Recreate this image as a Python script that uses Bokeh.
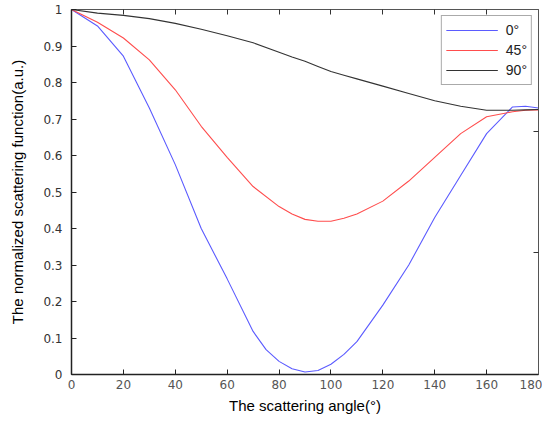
from bokeh.plotting import figure
from bokeh.models import LinearAxis, FixedTicker, Range1d, Legend, LegendItem, CustomJSTickFormatter
from bokeh.embed import file_html
from bokeh.resources import INLINE

angles0 = [0, 10, 20, 30, 40, 50, 60, 70, 75, 80, 85, 90, 95, 100, 105, 110, 120, 130, 140, 150, 160, 170, 175, 180]
s0 = [1.0, 0.955, 0.872, 0.73, 0.575, 0.40, 0.262, 0.118, 0.068, 0.036, 0.016, 0.007, 0.011, 0.028, 0.055, 0.09, 0.19, 0.30, 0.43, 0.545, 0.66, 0.733, 0.735, 0.73]
angles = [0, 10, 20, 30, 40, 50, 60, 70, 80, 85, 90, 95, 100, 105, 110, 120, 130, 140, 150, 160, 170, 175, 180]
s45 = [1.0, 0.965, 0.922, 0.862, 0.78, 0.68, 0.595, 0.515, 0.46, 0.44, 0.425, 0.42, 0.42, 0.428, 0.44, 0.475, 0.53, 0.595, 0.66, 0.706, 0.72, 0.724, 0.725]
s90 = [1.0, 0.99, 0.984, 0.975, 0.962, 0.946, 0.928, 0.909, 0.883, 0.87, 0.858, 0.844, 0.83, 0.82, 0.81, 0.79, 0.77, 0.75, 0.735, 0.724, 0.724, 0.725, 0.726]
labels = ["0°", "45°", "90°"]
colors = ["#5b5bff", "#ff4d4d", "#333333"]
x_ticks = [0, 20, 40, 60, 80, 100, 120, 140, 160, 180]
y_ticks = [0, 0.1, 0.2, 0.3, 0.4, 0.5, 0.6, 0.7, 0.8, 0.9, 1]
right_ticks = [1 / 3, 2 / 3]

p = figure(width=542, height=416, output_backend="svg", toolbar_location=None,
           x_range=Range1d(0, 180), y_range=Range1d(0, 1),
           x_axis_location=None, y_axis_location=None,
           min_border_left=71, min_border_right=4, min_border_top=9, min_border_bottom=38)
p.grid.visible = False
p.outline_line_color = "#555555"
p.outline_line_width = 1
p.background_fill_color = "white"
p.border_fill_color = "white"

renderers = []
for xs, ys, c in zip([angles0, angles, angles], [s0, s45, s90], colors):
    r = p.line(xs, ys, line_color=c, line_width=1.1)
    renderers.append(r)

xb = LinearAxis(ticker=FixedTicker(ticks=x_ticks))
xb.axis_label = "The scattering angle(°)"
xb.axis_label_text_font = "Liberation Sans"
xb.axis_label_text_font_size = "15px"
xb.axis_label_text_font_style = "normal"
xb.axis_label_text_color = "black"
xb.axis_label_standoff = 5
xb.major_label_text_font = "DejaVu Sans"
xb.major_label_text_font_size = "12px"
xb.major_label_text_color = "#555555"
xb.major_label_standoff = 5
xb.major_tick_in = 5
xb.major_tick_out = 0
xb.minor_tick_line_color = None
xb.axis_line_color = "#222222"
xb.axis_line_width = 1.5
xb.major_tick_line_color = "#222222"
p.add_layout(xb, "below")

yl = LinearAxis(ticker=FixedTicker(ticks=y_ticks))
yl.major_label_overrides = {0: "0", 1: "1"}
yl.axis_label = "The normalized scattering function(a.u.)"
yl.axis_label_text_font = "Liberation Sans"
yl.axis_label_text_font_size = "15px"
yl.axis_label_text_font_style = "normal"
yl.axis_label_text_color = "black"
yl.axis_label_standoff = 14
yl.major_label_text_font = "DejaVu Sans"
yl.major_label_text_font_size = "12px"
yl.major_label_text_color = "#333333"
yl.major_label_standoff = 9
yl.major_tick_in = 5
yl.major_tick_out = 0
yl.minor_tick_line_color = None
yl.axis_line_color = "#222222"
yl.axis_line_width = 1.5
yl.major_tick_line_color = "#222222"
p.add_layout(yl, "left")

blank = CustomJSTickFormatter(code="return '';")

xt = LinearAxis(ticker=FixedTicker(ticks=x_ticks[1:-1]), formatter=blank)
xt.major_label_standoff = 0
xt.major_tick_in = 5
xt.major_tick_out = 0
xt.minor_tick_line_color = None
xt.axis_line_color = "#555555"
xt.major_tick_line_color = "#333333"
p.add_layout(xt, "above")

yr = LinearAxis(ticker=FixedTicker(ticks=right_ticks), formatter=blank)
yr.major_label_standoff = 0
yr.major_tick_in = 5
yr.major_tick_out = 0
yr.minor_tick_line_color = None
yr.axis_line_color = "#555555"
yr.major_tick_line_color = "#333333"
p.add_layout(yr, "right")

legend = Legend(items=[LegendItem(label=l, renderers=[r]) for l, r in zip(labels, renderers)],
                location="top_right")
legend.margin = 6
legend.padding = 4
legend.spacing = 0
legend.glyph_width = 52
legend.glyph_height = 20
legend.label_height = 20
legend.label_standoff = 8
legend.label_text_font = "Liberation Sans"
legend.label_text_font_size = "14px"
legend.label_text_color = "#222222"
legend.border_line_color = "#555555"
legend.border_line_width = 1
legend.background_fill_color = "white"
legend.background_fill_alpha = 1
p.add_layout(legend, "center")

open("out.html", "w").write(file_html(p, INLINE))
